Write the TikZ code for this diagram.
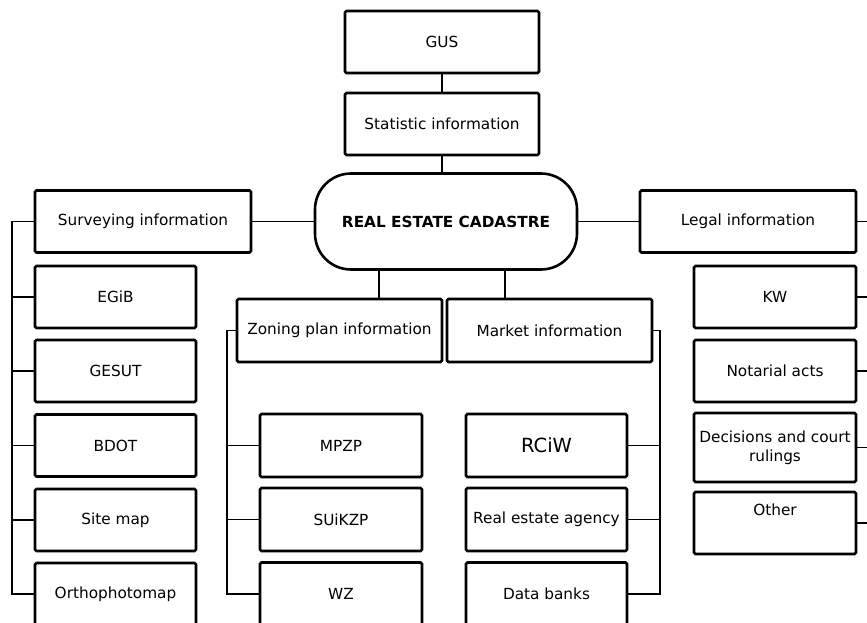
\documentclass[tikz,border=0pt]{standalone}
\usepackage{fontspec}
\setmainfont{DejaVu Sans}
\usepackage{tikz}

\begin{document}
\begin{tikzpicture}[x=1pt,y=-1pt,
	box/.style={draw,line width=2.6pt,rounded corners=1.5pt,inner sep=0pt,align=center,
		font=\fontsize{15.3}{19}\selectfont},
	wire/.style={line width=1.5pt}]
	\useasboundingbox (0,0) rectangle (867,622);
	\clip (0,0) rectangle (867,622);
	% centre
	\node[box,minimum width=194,minimum height=62] (gus) at (442,42) {GUS};
	\node[box,minimum width=194,minimum height=62] (stat) at (442,124) {Statistic information};
	\node[box,minimum width=262,minimum height=96,rounded corners=36pt] (cad) at (446,221.5) {\textbf{REAL ESTATE CADASTRE}};
	\node[box,minimum width=216,minimum height=62] (surv) at (143,221.5) {Surveying information};
	\node[box,minimum width=216,minimum height=62] (legal) at (748,221.5) {Legal information};
	\node[box,minimum width=205,minimum height=63] (zon) at (339.5,330.5) {Zoning plan information};
	\node[box,minimum width=205,minimum height=63] (mkt) at (549.5,330.5) {Market information};
	% surveying
	\node[box,minimum width=161,minimum height=62] (egib) at (115.5,297) {EGiB};
	\node[box,minimum width=161,minimum height=62] (gesut) at (115.5,371) {GESUT};
	\node[box,minimum width=161,minimum height=62] (bdot) at (115.5,445.5) {BDOT};
	\node[box,minimum width=161,minimum height=62] (site) at (115.5,520) {Site map};
	\node[box,minimum width=161,minimum height=62] (ortho) at (115.5,594) {Orthophotomap};
	% zoning
	\node[box,minimum width=162,minimum height=63] (mpzp) at (341,445.5) {MPZP};
	\node[box,minimum width=162,minimum height=63] (suikzp) at (341,519.5) {SUiKZP};
	\node[box,minimum width=162,minimum height=63] (wz) at (341,594) {WZ};
	% market
	\node[box,minimum width=161,minimum height=63,font=\fontsize{19.5}{22}\selectfont] (rciw) at (546.5,445.5) {RCiW};
	\node[box,minimum width=161,minimum height=63] (agency) at (546.5,519.5) {Real estate agency};
	\node[box,minimum width=161,minimum height=63] (banks) at (546.5,594) {Data banks};
	% legal
	\node[box,minimum width=162,minimum height=62] (kw) at (775,297) {KW};
	\node[box,minimum width=162,minimum height=62] (notar) at (775,371) {Notarial acts};
	\node[box,minimum width=162,minimum height=69] (dec) at (775,447.5) {Decisions and court\\rulings};
	\node[box,minimum width=162,minimum height=62,
		label={[anchor=north,inner sep=0pt,yshift=-13pt,font=\fontsize{15.3}{19}\selectfont]north:Other}] (other) at (775,523) {};
	% buses
	\coordinate (lbus) at (12,0);
	\coordinate (zbus) at (227,0);
	\coordinate (mbus) at (660,0);
	\coordinate (rbus) at (878,0);
	\draw[wire] (gus) -- (stat);
	\draw[wire] (stat.south) -- (stat.south |- cad.north);
	\draw[wire] (cad) -- (surv);
	\draw[wire] (cad) -- (legal);
	\draw[wire] ([xshift=-67pt]cad.south) -- ([xshift=-67pt]cad.south |- zon.north);
	\draw[wire] ([xshift=59pt]cad.south) -- ([xshift=59pt]cad.south |- mkt.north);
	\draw[wire] (surv.west) -- (surv.west -| lbus) |- (ortho.west);
	\foreach \n in {egib,gesut,bdot,site}
		\draw[wire] (\n.west) -- (\n.west -| lbus);
	\draw[wire] (zon.west) -- (zon.west -| zbus) |- (wz.west);
	\foreach \n in {mpzp,suikzp}
		\draw[wire] (\n.west) -- (\n.west -| zbus);
	\draw[wire] (mkt.east) -- (mkt.east -| mbus) |- (banks.east);
	\foreach \n in {rciw,agency}
		\draw[wire] (\n.east) -- (\n.east -| mbus);
	\draw[wire] (legal.east) -- (legal.east -| rbus) |- (other.east);
	\foreach \n in {kw,notar,dec}
		\draw[wire] (\n.east) -- (\n.east -| rbus);
\end{tikzpicture}
\end{document}
